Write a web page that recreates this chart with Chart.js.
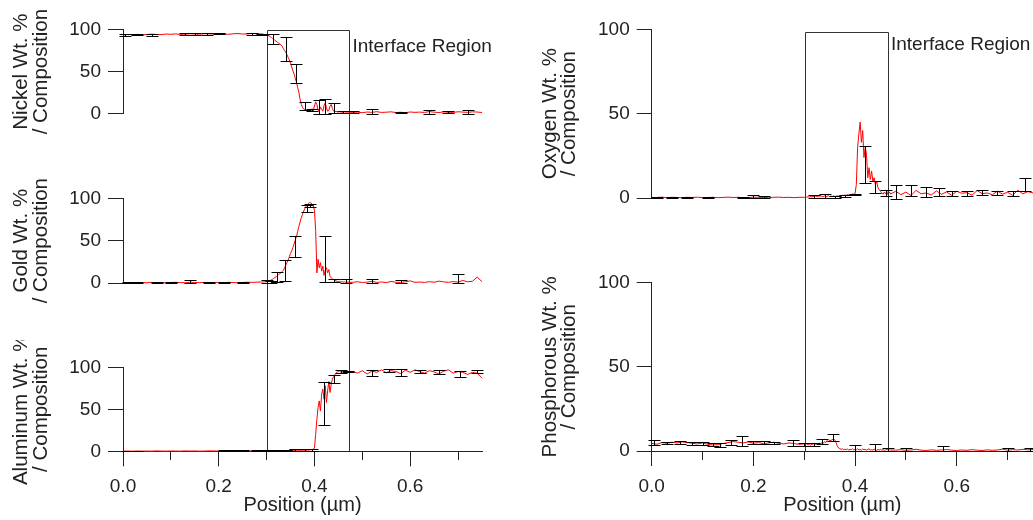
<!DOCTYPE html>
<html>
<head>
<meta charset="utf-8">
<title>Interface composition profiles</title>
<script src="https://cdn.jsdelivr.net/npm/chart.js@4.4.1/dist/chart.umd.min.js"></script>
<style>
  html, body { margin: 0; padding: 0; background: #fff; }
  #figure { position: relative; width: 1033px; height: 520px; overflow: hidden; }
  #figure canvas { position: absolute; }
</style>
</head>
<body>
<div id="figure">
  <canvas id="nickelChart" width="500" height="170" style="left:0;top:0"></canvas>
  <canvas id="goldChart" width="500" height="170" style="left:0;top:170px"></canvas>
  <canvas id="aluminumChart" width="500" height="180" style="left:0;top:340px"></canvas>
  <canvas id="oxygenChart" width="513" height="260" style="left:520px;top:0"></canvas>
  <canvas id="phosphorusChart" width="513" height="260" style="left:520px;top:260px"></canvas>
</div>
<script>
(function () {
    'use strict';

    // line scan positions (µm)
    var position = [
        0, 0.01, 0.02, 0.03, 0.04, 0.05, 0.06, 0.07, 0.08, 0.09,
        0.1, 0.11, 0.12, 0.13, 0.14, 0.15, 0.16, 0.17, 0.18, 0.19,
        0.2, 0.21, 0.22, 0.23, 0.24, 0.25, 0.26, 0.27, 0.28, 0.29,
        0.3, 0.3025, 0.305, 0.3075, 0.31, 0.3125, 0.315, 0.3175, 0.32, 0.3225,
        0.325, 0.3275, 0.33, 0.3325, 0.335, 0.3375, 0.34, 0.3425, 0.345, 0.3475,
        0.35, 0.3525, 0.355, 0.3575, 0.36, 0.3625, 0.365, 0.3675, 0.37, 0.3725,
        0.375, 0.3775, 0.38, 0.3825, 0.385, 0.3875, 0.39, 0.3925, 0.395, 0.3975,
        0.4, 0.4025, 0.405, 0.4075, 0.41, 0.4125, 0.415, 0.4175, 0.42, 0.4225,
        0.425, 0.4275, 0.43, 0.4325, 0.435, 0.4375, 0.44, 0.4425, 0.445, 0.4475,
        0.45, 0.4525, 0.455, 0.4575, 0.46, 0.4625, 0.465, 0.4675, 0.47,
        0.48, 0.49, 0.5, 0.51, 0.52, 0.53, 0.54, 0.55, 0.56, 0.57,
        0.58, 0.59, 0.6, 0.61, 0.62, 0.63, 0.64, 0.65, 0.66, 0.67,
        0.68, 0.69, 0.7, 0.71, 0.72, 0.73, 0.74, 0.75
    ];

    var nickelWt = [
        93.5, 94, 93.8, 94.2, 93.6, 94, 94.5, 94.1, 93.9, 94.6,
        94.3, 94.8, 94.2, 94.5, 95, 94.7, 94.4, 95.1, 94.8, 94.6,
        95, 94.7, 94.3, 94.9, 95.2, 94.6, 94.8, 95.3, 95, 94.7,
        93.5, 93, 92.5, 91.5, 90.5, 89.5, 88.5, 87, 86, 85,
        84, 83, 81.5, 80, 77.5, 75, 73, 70, 67, 64,
        60, 55.5, 51, 47, 42, 37, 31, 25, 17, 11,
        7.5, 5.5, 4.5, 4, 3.5, 3.5, 3.2, 4, 6, 3.5,
        9, 14, 11, 4, 3, 8, 5, 3, 10, 13,
        7, 3, 4, 9, 11, 6, 3, 2.5, 2.8, 2.2,
        2, 2.4, 1.8, 2, 1.6, 2.2, 1.8, 1.5, 2,
        1.5, 1.8, 1.2, 2, 1.6, 2.4, 1.5, 1.8, 2.2, 1.4,
        1.7, 1.3, 2, 1.6, 1.9, 1.5, 2.5, 1.8, 1.4, 2.1,
        1.7, 1.5, 2.3, 1.9, 1.6, 2.2, 2, 1.4
    ];

    var goldWt = [
        0.3, 0.5, 0.2, 0.6, 0.4, 0.3, 0.7, 0.5, 0.4, 0.2,
        0.6, 0.8, 0.5, 0.3, 0.9, 0.6, 0.4, 0.7, 0.5, 0.3,
        0.6, 0.4, 0.8, 0.5, 0.3, 0.6, 0.9, 0.7, 1, 1.2,
        1.5, 2, 2.5, 3, 3.8, 4.5, 5.5, 6.5, 7.5, 8.5,
        10, 11, 12, 13.5, 15, 18, 21, 24, 27, 31,
        35, 38, 42, 46, 51, 55, 61, 67, 72, 77,
        81, 85, 88, 90.5, 92.5, 94, 95, 94.5, 93.5, 91,
        86, 62, 12, 28, 18, 24, 14, 20, 9, 15,
        18, 12, 16, 8, 6, 5, 4, 3, 2.5, 2,
        1.5, 2, 1.2, 1.5, 1, 1.4, 0.8, 1.2, 0.9,
        0.8, 1.5, 0.6, 1, 2, 0.7, 1.2, 0.5, 1.8, 0.9,
        0.6, 1.4, 2.5, 0.8, 1.1, 0.7, 1.6, 0.9, 2.2, 1.3,
        0.8, 1.7, 1, 3, 1.4, 2, 7, 1.5
    ];

    var aluminumWt = [
        0.2, 0.3, 0.1, 0.4, 0.2, 0.3, 0.2, 0.5, 0.3, 0.2,
        0.4, 0.3, 0.2, 0.5, 0.3, 0.4, 0.2, 0.3, 0.5, 0.4,
        0.3, 0.6, 0.4, 0.5, 0.3, 0.6, 0.5, 0.4, 0.6, 0.5,
        0.6, 0.5, 0.7, 0.6, 0.8, 0.6, 0.7, 0.9, 0.7, 0.8,
        0.6, 0.9, 0.8, 1, 0.8, 0.9, 1.1, 0.9, 1, 1.2,
        1, 1.1, 0.9, 1.2, 1.1, 1, 1.3, 1.1, 1.2, 1,
        1.3, 1.2, 1.4, 1.2, 1.5, 1.3, 1.6, 1.8, 2, 2.5,
        4, 20, 38, 52, 60, 48, 68, 74, 62, 78,
        58, 72, 83, 70, 80, 86, 89, 91, 93, 94.5,
        95, 96, 94, 96.5, 95.5, 93, 96, 95, 94,
        95, 93, 96, 92, 95.5, 94, 97, 93.5, 96, 95,
        92.5, 96.5, 94, 97, 95, 93, 96, 94.5, 92, 95.5,
        97, 93, 95, 94, 91.5, 94, 93, 87
    ];

    var oxygenWt = [
        0.2, 0.3, 0.5, 0.2, 0.4, 0.3, 0.2, 0.4, 0.3, 0.5,
        0.2, 0.3, 0.4, 0.2, 0.3, 0.5, 0.3, 0.4, 0.2, 0.3,
        0.5, 0.4, 0.3, 0.2, 0.4, 0.5, 0.3, 0.4, 0.2, 0.4,
        0.4, 0.6, 0.5, 0.8, 0.6, 0.9, 0.7, 1, 0.8, 1.2,
        0.9, 1.1, 0.8, 1.3, 1, 0.9, 1.2, 0.8, 1, 1.3,
        0.9, 1.1, 0.8, 1.2, 1, 0.9, 1.3, 1.1, 1.5, 1.2,
        1.6, 1.4, 1.8, 1.5, 2, 1.8, 2.2, 2, 2.4, 2.2,
        2.6, 8, 30, 38, 45, 33, 40, 24, 30, 26,
        12, 18, 11, 16, 10, 12, 8, 10, 6, 5,
        4, 3, 2.2, 3.5, 2.5, 4, 1.8, 3.6, 2.4,
        4, 2, 3.5, 1.5, 4.5, 2.5, 3, 1.8, 4.2, 2.2,
        3.6, 1.6, 4, 2.8, 3.2, 1.7, 4.4, 2.6, 3, 1.9,
        4.1, 2.3, 3.4, 1.6, 4.6, 2.5, 3.8, 3
    ];

    var phosphorusWt = [
        4.5, 4, 5, 4.6, 5.2, 4.8, 5.4, 5, 4.6, 4.2,
        4.8, 4, 3.6, 3.8, 4.4, 5, 5.6, 5.2, 4.8, 5.4,
        4.6, 5, 4.4, 4.8, 5.2, 4.6, 4.2, 4.8, 4.4, 4,
        4.2, 3.8, 4.4, 3.6, 4, 3.4, 4.2, 3.8, 4.6, 4,
        4.4, 3.8, 4.8, 4.2, 5.2, 4.6, 5.6, 5, 6.2, 5.4,
        6.6, 6, 7, 6.4, 6.8, 5, 3, 1.8, 1.4, 1,
        1.3, 0.8, 1.1, 0.7, 1.2, 0.6, 1, 0.8, 1.3, 0.6,
        1, 0.7, 1.4, 0.6, 0.9, 0.5, 1.2, 0.7, 1, 0.5,
        0.9, 1.3, 0.6, 0.8, 0.5, 1.1, 0.7, 0.4, 0.9, 0.6,
        1, 0.5, 0.8, 0.4, 0.7, 1, 0.5, 0.8, 0.6,
        0.5, 0.8, 0.4, 0.6, 1, 0.5, 0.3, 0.7, 0.4, 0.6,
        0.9, 0.5, 0.3, 0.6, 0.4, 0.8, 0.5, 0.3, 0.7, 0.4,
        0.6, 1.1, 0.5, 0.8, 0.6, 1, 0.7, 0.9
    ];

    // averaged composition with error bars; error is +/- value or [below, above]
    var nickelAvgPos = [0.005, 0.03, 0.06, 0.13, 0.15, 0.175, 0.2, 0.27, 0.29, 0.314, 0.341, 0.361, 0.38, 0.395, 0.41, 0.422, 0.44, 0.46, 0.48, 0.52, 0.58, 0.64, 0.68, 0.72];
    var nickelAvg = [93.5, 94, 93.5, 94.5, 94.5, 95, 95, 95, 94, 89, 76.5, 47.5, 9.3, 4, 8, 8.7, 7, 2, 2, 2.5, 1.5, 2, 2, 2];
    var nickelErr = [1, 0.5, 1.5, 1, 1.5, 1, 0.5, 1, 1, 6, 14, 11.5, 5, 1, 8, 8.7, 5.7, 0.8, 1, 2.5, 0.8, 2, 1, 2];

    var goldAvgPos = [0.01, 0.03, 0.07, 0.1, 0.14, 0.18, 0.21, 0.25, 0.3, 0.31, 0.321, 0.339, 0.36, 0.384, 0.39, 0.422, 0.44, 0.465, 0.52, 0.58, 0.7];
    var goldAvg = [0.3, 0.3, 0.4, 0.4, 1.5, 0.5, 0.5, 0.5, 1.5, 1, 7.5, 14.5, 43, 88, 91.5, 15, 3, 2.5, 2.5, 2, 5.5];
    var goldErr = [0.3, 0.3, 0.4, 0.4, 1.5, 0.5, 0.5, 0.5, 1.5, 1, 6, 12.5, 12, 4, 1.5, [13.5, 40], 2, 2.5, 2.5, 2, 5.5];

    var aluminumAvgPos = [0.01, 0.03, 0.21, 0.23, 0.25, 0.28, 0.3, 0.32, 0.34, 0.36, 0.38, 0.395, 0.419, 0.441, 0.455, 0.47, 0.52, 0.555, 0.58, 0.62, 0.66, 0.705, 0.74];
    var aluminumAvg = [0.3, 0.3, 0.5, 0.5, 0.6, 0.8, 0.8, 1, 1, 1.2, 1.3, 1.6, 57, 86, 95, 95, 93.5, 96, 94, 95, 94, 92, 95];
    var aluminumErr = [0.3, 0.3, 0.5, 0.5, 0.6, 0.6, 0.8, 0.8, 1, 1, 1.2, 1.2, 26, 5, 1.5, 1, 3.5, 2, 4, 1.5, 2.5, 4, 1.5];

    var oxygenAvgPos = [0.01, 0.04, 0.07, 0.11, 0.18, 0.2, 0.22, 0.32, 0.34, 0.36, 0.38, 0.4, 0.419, 0.44, 0.46, 0.48, 0.51, 0.54, 0.565, 0.59, 0.62, 0.65, 0.68, 0.71, 0.734];
    var oxygenAvg = [0.2, 0.3, 0.3, 0.3, 0.4, 0.8, 0.5, 1, 1.2, 0.8, 1.2, 2, 20, 6.5, 3, 3.5, 4.5, 3.5, 3.5, 2.5, 2.5, 3, 3, 2.5, 8];
    var oxygenErr = [0.2, 0.3, 0.3, 0.3, 0.4, 0.8, 0.5, 0.8, 1, 0.6, 0.8, 0.5, 11, 3.5, 2, 4, 3.5, 3, 2.5, 1.5, 1.5, 1.5, 1, 1.5, 4];

    var phosphorusAvgPos = [0.005, 0.03, 0.055, 0.08, 0.1, 0.12, 0.135, 0.155, 0.177, 0.2, 0.22, 0.24, 0.278, 0.3, 0.32, 0.334, 0.357, 0.4, 0.44, 0.465, 0.5, 0.573, 0.7, 0.745];
    var phosphorusAvg = [5, 4.8, 5, 4.5, 4.5, 4, 3.8, 5, 6, 5, 5, 4.8, 4.6, 3.8, 4, 5.8, 8, 1.8, 2, 1, 1, 1.5, 1, 0.8];
    var phosphorusErr = [1.5, 0.8, 1, 0.8, 1, 0.8, 1.2, 1.5, 3, 1, 1, 0.8, 1.8, 1, 1, 1.5, 2, 1.8, 2, 1, 1, 1.5, 1, 0.8];

    var xTicks = [0, 0.1, 0.2, 0.3, 0.4, 0.5, 0.6, 0.7];
    var xLabelTicks = [0, 0.2, 0.4, 0.6];
    var yTicks = [0, 50, 100];

    var AXIS = '#222';

    Chart.defaults.font.family = '"Liberation Sans", Arial, Helvetica, sans-serif';
    Chart.defaults.color = AXIS;

    var interfaceBox = {
        id: 'interfaceBox',
        afterDatasetsDraw: function (chart, args, opts) {
            var xs = chart.scales.x, ys = chart.scales.y, ctx = chart.ctx;
            var left = Math.round(xs.getPixelForValue(opts.from)) + 0.5;
            var right = Math.round(xs.getPixelForValue(opts.to)) + 0.5;
            var hasTop = opts.top !== null;
            var top = hasTop ? Math.round(ys.getPixelForValue(opts.top)) + 0.5 : 0;
            var bottom = opts.bottom !== null ? Math.round(ys.getPixelForValue(opts.bottom)) + 0.5 : chart.height;
            ctx.save();
            ctx.strokeStyle = '#333';
            ctx.lineWidth = 1;
            ctx.beginPath();
            ctx.moveTo(left, bottom);
            ctx.lineTo(left, top);
            if (hasTop) ctx.lineTo(right, top); else ctx.moveTo(right, top);
            ctx.lineTo(right, bottom);
            ctx.stroke();
            if (opts.label) {
                ctx.fillStyle = AXIS;
                ctx.font = '19px "Liberation Sans", Arial, sans-serif';
                ctx.textBaseline = 'middle';
                ctx.fillText(opts.label, right + opts.labelDx, top + opts.labelDy);
            }
            ctx.restore();
        }
    };

    var errorBars = {
        id: 'errorBars',
        afterDatasetsDraw: function (chart) {
            var xs = chart.scales.x, ys = chart.scales.y, ctx = chart.ctx;
            ctx.save();
            ctx.strokeStyle = '#000';
            ctx.lineWidth = 1;
            ctx.beginPath();
            chart.data.datasets.forEach(function (ds) {
                if (!ds.errors) return;
                ds.data.forEach(function (pt, i) {
                    var e = ds.errors[i];
                    var below = Array.isArray(e) ? e[0] : e;
                    var above = Array.isArray(e) ? e[1] : e;
                    if (!below && !above) return;
                    var px = Math.round(xs.getPixelForValue(pt.x)) + 0.5;
                    var hi = Math.round(ys.getPixelForValue(pt.y + above)) + 0.5;
                    var lo = Math.round(ys.getPixelForValue(pt.y - below)) + 0.5;
                    ctx.moveTo(px, hi); ctx.lineTo(px, lo);
                    ctx.moveTo(px - 6, hi); ctx.lineTo(px + 6, hi);
                    ctx.moveTo(px - 6, lo); ctx.lineTo(px + 6, lo);
                });
            });
            ctx.stroke();
            ctx.restore();
        }
    };

    function points(xs, ys) {
        return xs.map(function (x, i) { return { x: x, y: ys[i] }; });
    }

    function isLabelled(v) {
        return xLabelTicks.indexOf(v) >= 0;
    }

    function makePanel(canvasId, p) {
        return new Chart(document.getElementById(canvasId), {
            type: 'scatter',
            data: {
                datasets: [
                    {
                        label: 'line scan',
                        data: points(position, p.scan),
                        showLine: true,
                        borderColor: '#ff0000',
                        borderWidth: 1,
                        pointRadius: 0,
                        clip: 6
                    },
                    {
                        label: 'average',
                        data: points(p.avgPos, p.avg),
                        errors: p.err,
                        showLine: false,
                        pointRadius: 0
                    }
                ]
            },
            options: {
                responsive: false,
                animation: false,
                events: [],
                layout: { padding: { left: 0, top: p.padTop, bottom: p.padBottom, right: p.padRight } },
                scales: {
                    x: {
                        type: 'linear',
                        min: 0,
                        max: 0.75,
                        display: p.showX,
                        afterBuildTicks: function (s) {
                            s.ticks = xTicks.map(function (v) { return { value: v }; });
                        },
                        afterFit: function (s) { s.height = p.xHeight || s.height; },
                        ticks: {
                            autoSkip: false,
                            maxRotation: 0,
                            padding: 9,
                            font: { size: 19 },
                            callback: function (v) { return isLabelled(v) ? v.toFixed(1) : ''; }
                        },
                        grid: {
                            drawOnChartArea: false,
                            tickLength: 15,
                            color: AXIS,
                            tickBorderDash: function (c) {
                                return c.tick && !isLabelled(c.tick.value) ? [8, 40] : [];
                            }
                        },
                        border: { color: AXIS },
                        title: {
                            display: true,
                            text: 'Position (µm)',
                            font: { size: 20 },
                            padding: { top: 0, bottom: 3 }
                        }
                    },
                    y: {
                        type: 'linear',
                        min: 0,
                        max: 100,
                        afterBuildTicks: function (s) {
                            s.ticks = yTicks.map(function (v) { return { value: v }; });
                        },
                        afterFit: function (s) { s.width = p.yWidth; },
                        ticks: { padding: 7, font: { size: 19 } },
                        grid: { drawOnChartArea: false, tickLength: 15, color: AXIS },
                        border: { color: AXIS },
                        title: {
                            display: true,
                            text: p.yTitle,
                            font: { size: 20.5, lineHeight: 0.95 },
                            padding: { top: p.titlePad, bottom: 0 }
                        }
                    }
                },
                plugins: {
                    legend: { display: false },
                    tooltip: { enabled: false },
                    interfaceBox: p.box
                }
            },
            plugins: [interfaceBox, errorBars]
        });
    }

    makePanel('nickelChart', {
        scan: nickelWt, avgPos: nickelAvgPos, avg: nickelAvg, err: nickelErr,
        yTitle: ['Nickel Wt. %', '/ Composition'],
        showX: false, padTop: 29.5, padBottom: 56.3, padRight: 18, yWidth: 123, titlePad: 12,
        box: { from: 0.3, to: 0.472, top: 100, bottom: null, label: 'Interface Region', labelDx: 3, labelDy: 16 }
    });
    makePanel('goldChart', {
        scan: goldWt, avgPos: goldAvgPos, avg: goldAvg, err: goldErr,
        yTitle: ['Gold Wt. %', '/ Composition'],
        showX: false, padTop: 28.3, padBottom: 57, padRight: 18, yWidth: 123, titlePad: 12,
        box: { from: 0.3, to: 0.472, top: null, bottom: null, label: '' }
    });
    makePanel('aluminumChart', {
        scan: aluminumWt, avgPos: aluminumAvgPos, avg: aluminumAvg, err: aluminumErr,
        yTitle: ['Aluminum Wt. %', '/ Composition'],
        showX: true, xHeight: 68.7, padTop: 27.3, padBottom: 0, padRight: 18, yWidth: 123, titlePad: 12,
        box: { from: 0.3, to: 0.472, top: null, bottom: 0, label: '' }
    });
    makePanel('oxygenChart', {
        scan: oxygenWt, avgPos: oxygenAvgPos, avg: oxygenAvg, err: oxygenErr,
        yTitle: ['Oxygen Wt. %', '/ Composition'],
        showX: false, padTop: 29.3, padBottom: 62, padRight: 0, yWidth: 131.7, titlePad: 20.6,
        box: { from: 0.3015, to: 0.465, top: 98.5, bottom: null, label: 'Interface Region', labelDx: 2.5, labelDy: 12 }
    });
    makePanel('phosphorusChart', {
        scan: phosphorusWt, avgPos: phosphorusAvgPos, avg: phosphorusAvg, err: phosphorusErr,
        yTitle: ['Phosphorous Wt. %', '/ Composition'],
        showX: true, xHeight: 69, padTop: 22.7, padBottom: 0, padRight: 0, yWidth: 131.7, titlePad: 20.6,
        box: { from: 0.3015, to: 0.465, top: null, bottom: 0, label: '' }
    });
}());
</script>
</body>
</html>
